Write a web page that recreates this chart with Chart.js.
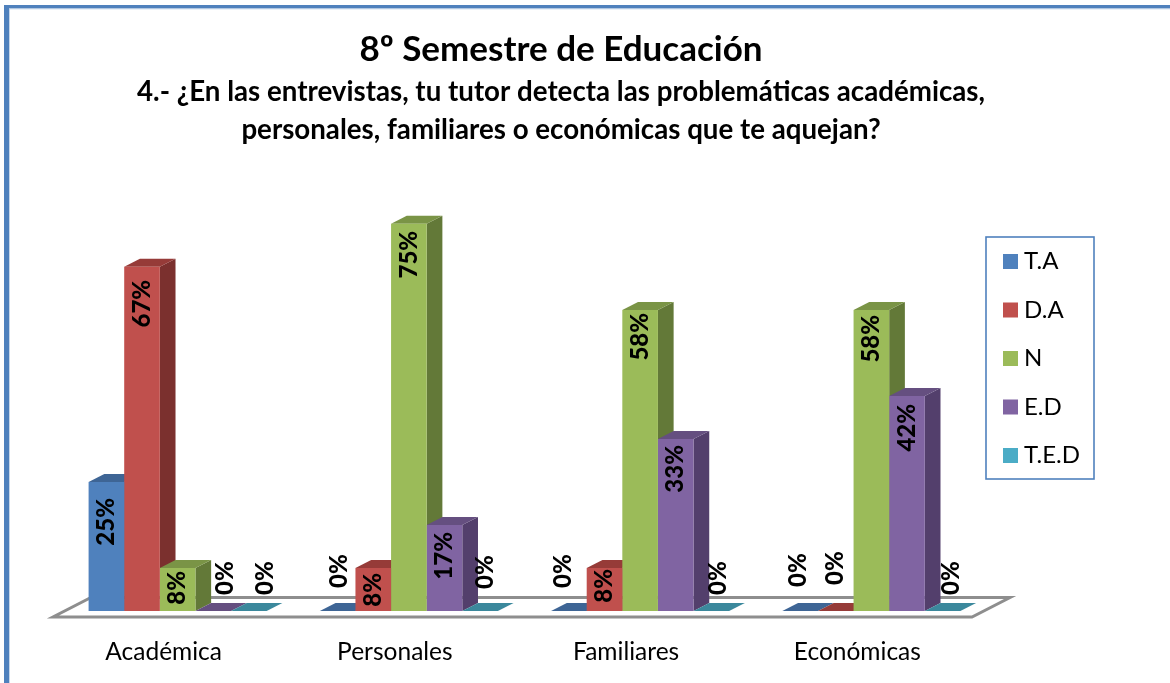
<!DOCTYPE html>
<html lang="es">
<head>
<meta charset="utf-8">
<style>html,body{margin:0;padding:0;background:#fff;overflow:hidden}#w{width:1170px;height:683px}</style>
<script src="https://cdn.jsdelivr.net/npm/chart.js@4/dist/chart.umd.min.js"></script>
</head>
<body>
<div id="w"><canvas id="c" width="1170" height="683"></canvas></div>
<script>
const categories = ["Académica", "Personales", "Familiares", "Económicas"];
const seriesNames = ["T.A", "D.A", "N", "E.D", "T.E.D"];
const valuesTA  = [25, 0, 0, 0];
const valuesDA  = [66.67, 8.33, 8.33, 0];
const valuesN   = [8.33, 75, 58.33, 58.33];
const valuesED  = [0, 16.67, 33.33, 41.67];
const valuesTED = [0, 0, 0, 0];
const frontColors = ["#4F81BD", "#C0504D", "#9BBB59", "#8064A2", "#4BACC6"];
const topColors   = ["#3E6595", "#963B38", "#7A9446", "#654F80", "#3B889C"];
const sideColors  = ["#345479", "#7B302E", "#637938", "#533F6C", "#2F7183"];

const FONT = "Lato, Carlito, Calibri, 'Open Sans', sans-serif";
const DEPTH_X = 15.7, DEPTH_Y = 8;
// hand-moved value labels in the original: [dx, dy] from the bar's default label spot
const labelNudge = {
  "0,0":[0,9], "1,0":[0,6], "2,0":[0,-4], "3,0":[12,0], "4,0":[16,0],
  "0,1":[2,-7], "1,1":[0,-2], "2,1":[0,0], "3,1":[0,0], "4,1":[5,-6],
  "0,2":[-6,-7], "1,2":[0,-6], "2,2":[0,-4], "3,2":[0,-1], "4,2":[7,0],
  "0,3":[-2,-8], "1,3":[0,-10], "2,3":[0,-2], "3,3":[0,1], "4,3":[9,0]
};

function poly(ctx, pts, fill) {
  ctx.beginPath();
  pts.forEach((p, i) => i ? ctx.lineTo(p[0], p[1]) : ctx.moveTo(p[0], p[1]));
  ctx.closePath();
  ctx.fillStyle = fill;
  ctx.fill();
}

const scene = {
  id: "scene",
  afterLayout(chart) {
    const lg = chart.legend;
    lg.left = 1009 - 24.5; lg.right = 1170; lg.top = 225; lg.bottom = 683;
    chart.boxes.forEach(b => {
      if (b.options && b.options.text !== undefined && b.ctx && b !== lg && !b.axis) { b.left = 0; b.right = 1122; }
    });
  },
  beforeDraw(chart) {
    const ctx = chart.ctx;
    ctx.save();
    ctx.fillStyle = "#fff";
    ctx.fillRect(0, 0, 1170, 683);
    ctx.fillStyle = "#4F81BD";
    ctx.fillRect(4, 5, 1166, 3.5);
    ctx.fillRect(4, 5, 5, 678);
    ctx.fillStyle = "#B9CDE5";
    ctx.fillRect(9, 8.5, 1161, 0.8);
    ctx.fillRect(9, 8.5, 0.8, 675);
    // legend frame
    ctx.strokeStyle = "#4F81BD";
    ctx.lineWidth = 1.6;
    ctx.strokeRect(986, 237, 108, 242);
    ctx.restore();
  },
  beforeDatasetsDraw(chart) {
    const ctx = chart.ctx, area = chart.chartArea, y0 = area.bottom;
    ctx.save();
    // floor
    ctx.beginPath();
    ctx.moveTo(area.left - 9, y0 + 6);
    ctx.lineTo(area.right - 15, y0 + 6);
    ctx.lineTo(area.right + 23, y0 - 13.5);
    ctx.lineTo(area.left + 29, y0 - 13.5);
    ctx.closePath();
    ctx.fillStyle = "#fff";
    ctx.fill();
    ctx.strokeStyle = "#8E8E8E";
    ctx.lineWidth = 3;
    ctx.lineJoin = "miter";
    ctx.stroke();
    // depth faces of every bar, left to right
    categories.forEach((_, i) => {
      chart.data.datasets.forEach((_, d) => {
        const b = chart.getDatasetMeta(d).data[i];
        const hw = b.width / 2, l = b.x - hw, r = b.x + hw;
        poly(ctx, [[r, b.y], [r + DEPTH_X, b.y - DEPTH_Y], [r + DEPTH_X, y0 - DEPTH_Y], [r, y0]], sideColors[d]);
        poly(ctx, [[l, b.y], [l + DEPTH_X, b.y - DEPTH_Y], [r + DEPTH_X, b.y - DEPTH_Y], [r, b.y]], topColors[d]);
      });
    });
    ctx.restore();
  },
  afterDatasetsDraw(chart) {
    const ctx = chart.ctx;
    ctx.save();
    ctx.fillStyle = "#000";
    ctx.font = "900 24px " + FONT;
    ctx.textAlign = "center";
    ctx.textBaseline = "middle";
    chart.data.datasets.forEach((ds, d) => {
      ds.data.forEach((v, i) => {
        const b = chart.getDatasetMeta(d).data[i];
        const txt = Math.round(v) + "%";
        const w = ctx.measureText(txt).width;
        const n = labelNudge[d + "," + i] || [0, 0];
        const cy = v > 0 ? b.y + 7 + w / 2 : b.y - 16 - w / 2;
        ctx.save();
        ctx.translate(b.x + n[0], cy + n[1]);
        ctx.rotate(-Math.PI / 2);
        ctx.fillText(txt, 0, 0);
        ctx.restore();
      });
    });
    ctx.restore();
  }
};

const allValues = [valuesTA, valuesDA, valuesN, valuesED, valuesTED];
new Chart(document.getElementById("c"), {
  type: "bar",
  plugins: [scene],
  data: {
    labels: categories,
    datasets: seriesNames.map((n, k) => ({
      label: n,
      data: allValues[k],
      backgroundColor: frontColors[k],
      borderWidth: 0,
      categoryPercentage: 0.77,
      barPercentage: 1
    }))
  },
  options: {
    responsive: false,
    animation: false,
    layout: { padding: { left: 62, right: 183, top: 0, bottom: 0 } },
    plugins: {
      tooltip: { enabled: false },
      title: {
        display: true,
        text: "8º Semestre de Educación",
        color: "#000",
        font: { family: FONT, size: 35, weight: "bold", lineHeight: 1.2 },
        padding: { top: 29, bottom: 0 }
      },
      subtitle: {
        display: true,
        text: ["4.- ¿En las entrevistas, tu tutor detecta las problemáticas académicas,",
               "personales, familiares o económicas que te aquejan?"],
        color: "#000",
        font: { family: FONT, size: 27.7, weight: "bold", lineHeight: 1.372 },
        padding: { top: 2, bottom: 49 }
      },
      legend: {
        display: true,
        position: "chartArea",
        align: "start",
        labels: {
          color: "#000",
          font: { family: FONT, size: 24 },
          usePointStyle: true,
          pointStyle: "rect",
          boxWidth: 3,
          boxHeight: 15,
          padding: 24.5
        }
      }
    },
    scales: {
      x: {
        grid: { display: false },
        border: { display: false },
        afterFit(s) { s.height = 72; },
        ticks: {
          color: "#000",
          font: { family: FONT, size: 24.5 },
          padding: 18,
          labelOffset: -14,
          maxRotation: 0
        }
      },
      y: { display: false, min: 0, max: 80 }
    }
  }
});
</script>
</body>
</html>
